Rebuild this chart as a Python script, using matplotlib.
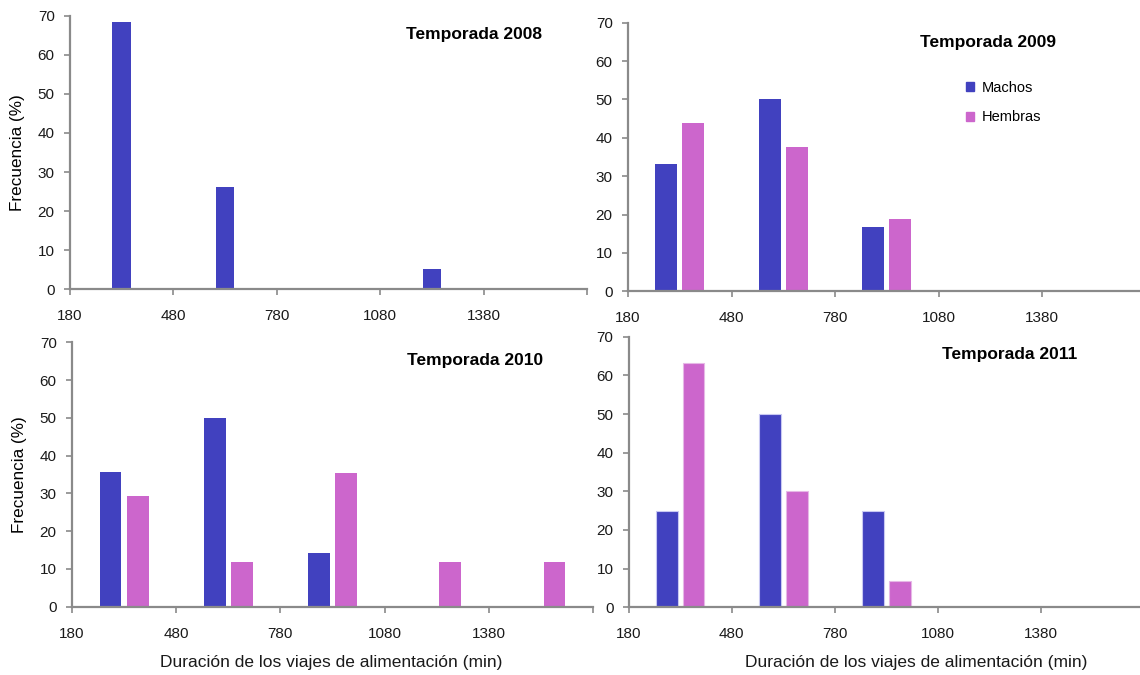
import matplotlib
matplotlib.use("Agg")
import matplotlib.pyplot as plt
from matplotlib.patches import Patch

plt.rcParams["font.family"] = ["Liberation Sans", "DejaVu Sans"]

# Bin edges (min) and frequencies (%) per season
bin_edges = [180, 480, 780, 1080, 1380, 1680]
seasons = ["Temporada 2008", "Temporada 2009", "Temporada 2010", "Temporada 2011"]
machos_2008 = [68.4, 26.3, 0, 5.3, 0]
machos_2009 = [33.3, 50.0, 16.7, 0, 0]
hembras_2009 = [43.8, 37.5, 18.8, 0, 0]
machos_2010 = [35.7, 50.0, 14.3, 0, 0]
hembras_2010 = [29.4, 11.8, 35.3, 11.8, 11.8]
machos_2011 = [25.0, 50.0, 25.0, 0, 0]
hembras_2011 = [63.3, 30.0, 6.7, 0, 0]

c_machos = "#4141BF"
c_hembras = "#CC66CC"
axis_gray = "#8A8A8A"

W, H = 1140, 675
fig = plt.figure(figsize=(W / 100, H / 100), dpi=100)


def px_axes(left, right, top, bottom):
    # pixel box -> figure fraction
    return fig.add_axes([left / W, 1 - bottom / H, (right - left) / W, (bottom - top) / H])


def style(ax):
    ax.set_xlim(0, 5)
    ax.set_ylim(0, 70)
    ax.set_yticks(range(0, 71, 10))
    ax.set_xticks(range(6))
    ax.set_xticklabels([str(e) for e in bin_edges[:-1]] + [""])
    for s in ["top", "right"]:
        ax.spines[s].set_visible(False)
    for s in ["left", "bottom"]:
        ax.spines[s].set_color(axis_gray)
        ax.spines[s].set_linewidth(1.6)
    ax.tick_params(axis="x", length=4.5, width=1.2, color=axis_gray, pad=10,
                   labelsize=11, labelcolor="#1a1a1a")
    ax.tick_params(axis="y", length=4.5, width=1.2, color=axis_gray, pad=6.5,
                   labelsize=11, labelcolor="#1a1a1a")


idx = range(5)
w2 = 0.21
off = 0.13

# 2008 (only males)
ax1 = px_axes(70, 587, 15.7, 289.3)
ax1.bar([i + 0.5 for i in idx], machos_2008, width=0.18, color=c_machos)
style(ax1)
ax1.set_ylabel("Frecuencia (%)", fontsize=12.3, labelpad=9)

# 2009
ax2 = px_axes(628, 1145.5, 22.7, 291.3)
ax2.bar([i + 0.5 - off for i in idx], machos_2009, width=w2, color=c_machos)
ax2.bar([i + 0.5 + off for i in idx], hembras_2009, width=w2, color=c_hembras)
style(ax2)
fig.legend(handles=[Patch(color=c_machos, label="Machos"),
                    Patch(color=c_hembras, label="Hembras")],
           loc="upper left", bbox_to_anchor=(966 / W, 1 - 81 / H),
           frameon=False, fontsize=10.5, handlelength=0.55, handleheight=0.55,
           handletextpad=0.5, labelspacing=1.05, borderpad=0, borderaxespad=0)

# 2010
ax3 = px_axes(72, 593, 342.3, 606.7)
ax3.bar([i + 0.5 - off for i in idx], machos_2010, width=w2, color=c_machos)
ax3.bar([i + 0.5 + off for i in idx], hembras_2010, width=w2, color=c_hembras)
style(ax3)
ax3.set_ylabel("Frecuencia (%)", fontsize=12.3, labelpad=9)

# 2011
ax4 = px_axes(628.7, 1144, 336.7, 607.3)
ax4.bar([i + 0.5 - off for i in idx], machos_2011, width=w2, color=c_machos,
        edgecolor="#C8C8F2", linewidth=0.8)
ax4.bar([i + 0.5 + off for i in idx], hembras_2011, width=w2, color=c_hembras,
        edgecolor="#E6B8E6", linewidth=0.8)
style(ax4)

# season titles
title_pos = [(474.5, 35), (988.5, 43), (475, 361), (1010, 355)]
for name, (x, y) in zip(seasons, title_pos):
    fig.text(x / W, 1 - y / H, name, ha="center", va="center",
             fontsize=12.5, fontweight="bold")

# x labels for bottom panels
for x in [331, 916]:
    fig.text(x / W, 1 - 662 / H, "Duración de los viajes de alimentación (min)",
             ha="center", va="center", fontsize=12.5, color="#1a1a1a")

fig.savefig("out.png", dpi=100)
